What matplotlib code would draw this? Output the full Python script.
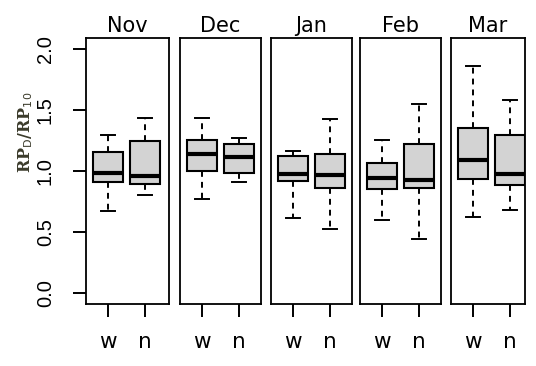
import matplotlib
matplotlib.use("Agg")
import matplotlib.pyplot as plt

months = ["Nov", "Dec", "Jan", "Feb", "Mar"]
groups = ["w", "n"]

# five-number summaries: low whisker, Q1, median, Q3, high whisker
w_low = [0.67, 0.77, 0.61, 0.60, 0.62]
w_q1 = [0.91, 1.00, 0.92, 0.85, 0.93]
w_med = [0.98, 1.14, 0.97, 0.94, 1.09]
w_q3 = [1.15, 1.25, 1.12, 1.06, 1.35]
w_high = [1.29, 1.43, 1.16, 1.25, 1.86]

n_low = [0.80, 0.91, 0.52, 0.44, 0.68]
n_q1 = [0.89, 0.98, 0.86, 0.86, 0.88]
n_med = [0.955, 1.115, 0.965, 0.925, 0.975]
n_q3 = [1.24, 1.22, 1.14, 1.22, 1.29]
n_high = [1.43, 1.27, 1.42, 1.55, 1.58]

yticks = [0.0, 0.5, 1.0, 1.5, 2.0]

W, H = 536, 366
fig = plt.figure(figsize=(W / 100, H / 100), dpi=100)

# panel extents in pixels (left, right)
panels = [(86, 169), (180, 261), (271, 352), (360, 441), (451, 525)]
top, bottom = 38, 304

for i, m in enumerate(months):
    l, r = panels[i]
    ax = fig.add_axes([l / W, 1 - bottom / H, (r - l) / W, (bottom - top) / H])
    stats = [
        dict(whislo=w_low[i], q1=w_q1[i], med=w_med[i], q3=w_q3[i], whishi=w_high[i], fliers=[]),
        dict(whislo=n_low[i], q1=n_q1[i], med=n_med[i], q3=n_q3[i], whishi=n_high[i], fliers=[]),
    ]
    ax.bxp(stats, positions=[1, 2], widths=0.8, patch_artist=True, showfliers=False,
           boxprops=dict(facecolor="#d3d3d3", edgecolor="black", linewidth=1.5),
           whiskerprops=dict(linestyle=(0, (3, 2.6)), linewidth=1.4, color="black"),
           capprops=dict(linewidth=1.4, color="black"),
           medianprops=dict(color="black", linewidth=3.0, solid_capstyle="butt"),
           capwidths=0.4)
    ax.set_xlim(0.405, 0.405 + (r - l) / 37)
    ax.set_ylim(-0.09, 2.087)
    ax.set_xticks([1, 2])
    ax.set_xticklabels(groups, fontsize=15.5, family="DejaVu Sans")
    ax.tick_params(axis="x", length=9, width=1.4, pad=11)
    for s in ax.spines.values():
        s.set_linewidth(1.3)
    ax.set_title(m, fontsize=15, family="DejaVu Sans", pad=4)
    if i == 0:
        ax.set_yticks(yticks)
        ax.set_yticklabels(["%.1f" % t for t in yticks], rotation=90, va="center",
                           fontsize=14.5, family="Liberation Sans")
        ax.tick_params(axis="y", length=9.5, width=1.4, pad=13)
        ax.set_ylabel(r"RP$_\mathrm{D}$/RP$_\mathrm{10}$", family="serif", fontsize=11.5,
                      fontweight="bold", color="#3a3a2a")
        ax.yaxis.set_label_coords(-0.62, 0.645)
    else:
        ax.set_yticks([])

fig.savefig("out.png", dpi=100)
